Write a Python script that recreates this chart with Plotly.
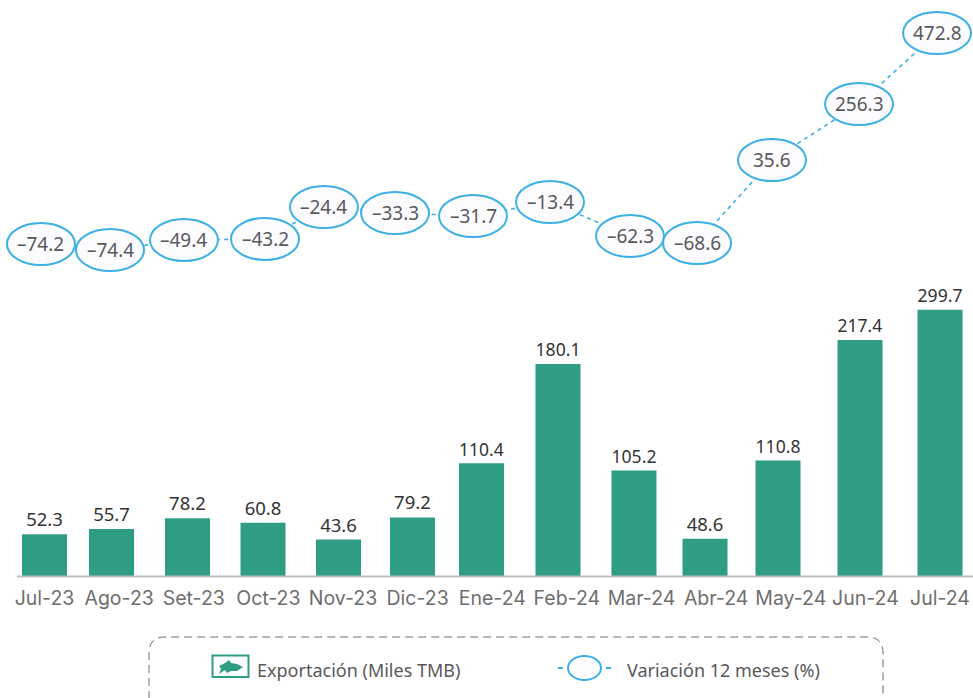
import plotly.graph_objects as go

W, H = 973, 698
meses = ["Jul-23", "Ago-23", "Set-23", "Oct-23", "Nov-23", "Dic-23", "Ene-24", "Feb-24",
         "Mar-24", "Abr-24", "May-24", "Jun-24", "Jul-24"]
exportacion = [52.3, 55.7, 78.2, 60.8, 43.6, 79.2, 110.4, 180.1, 105.2, 48.6, 110.8, 217.4, 299.7]
variacion = [-74.2, -74.4, -49.4, -43.2, -24.4, -33.3, -31.7, -13.4, -62.3, -68.6, 35.6, 256.3, 472.8]

# The source picture is hand-adjusted: heights and slots do not follow the printed
# labels linearly, so the drawn levels are read from the picture separately.
barra_nivel = [47, 53, 65, 60, 41, 66, 127, 239, 119, 42, 130, 266, 300]
barra_pos = [0, 0.898, 1.916, 2.928, 3.94, 4.931, 5.856, 6.881, 7.899, 8.851, 9.829, 10.928, 12]
linea_nivel = [-74.2, -89.7, -63.7, -61, 21.8, 6.2, -1.5, 34.8, -53.4, -71.6, 143.6, 288.8, 472.8]
linea_pos = [-0.047, 0.878, 1.869, 2.955, 3.745, 4.697, 5.742, 6.774, 7.846, 8.744, 9.749, 10.915, 11.96]

GREEN, BLUE = "#2F9C84", "#3DB1E3"
GREY, DARK = "#58595B", "#333333"
FONT = "Noto Sans"

def px(v): return v / W
def py(v): return 1 - v / H

fig = go.Figure()
fig.add_bar(x=barra_pos, y=barra_nivel, width=0.603, marker_color=GREEN, marker_line_width=0,
            text=[f"{v:.1f}" for v in exportacion], textposition="outside", cliponaxis=False,
            textfont=dict(size=18.5, color=DARK, family=FONT), yaxis="y")
fig.add_scatter(x=linea_pos, y=linea_nivel, mode="lines", yaxis="y2",
                line=dict(color=BLUE, width=1.6, dash="4px,4px"), hoverinfo="skip")

shapes, annos = [], []
# Baseline, starting a little right of the page edge
shapes.append(dict(type="line", xref="paper", yref="paper", x0=px(17), x1=1, y0=py(576.5), y1=py(576.5),
                   line=dict(color="#BFBFBF", width=2)))
for x, y, v in zip(linea_pos, linea_nivel, variacion):
    shapes.append(dict(type="circle", xref="x", yref="y2", xsizemode="pixel", ysizemode="pixel",
                       xanchor=x, yanchor=y, x0=-34, x1=34, y0=-21, y1=21,
                       fillcolor="#FCFCFF", line=dict(color=BLUE, width=2)))
    annos.append(dict(x=x, y=y, xref="x", yref="y2", text=f"{v:.1f}".replace("-", "–"), showarrow=False,
                      font=dict(size=19, color=GREY, family=FONT)))

# Legend box (rounded, dashed, running off the bottom edge)
L, R, T, B, r = px(149), px(883), py(637), py(712), 16
box = (f"M {L} {B} L {L} {py(637 + r)} Q {L} {T} {px(149 + r)} {T} L {px(883 - r)} {T} "
       f"Q {R} {T} {R} {py(637 + r)} L {R} {B}")
shapes.append(dict(type="path", path=box, xref="paper", yref="paper",
                   line=dict(color="#6E6E6E", width=1, dash="8px,5px")))
# Legend: export icon
shapes.append(dict(type="rect", xref="paper", yref="paper", x0=px(212.5), x1=px(248.5), y0=py(655.5), y1=py(677),
                   line=dict(color=GREEN, width=2), fillcolor="#FFFFFF"))
fish = [(219, 666), (225, 663), (229, 660), (231, 663), (237, 664), (243, 667), (237, 671), (231, 671),
        (227, 673), (225, 670), (219, 674), (221, 669)]
shapes.append(dict(type="path", xref="paper", yref="paper", fillcolor=GREEN, line_width=0,
                   path="M " + " L ".join(f"{px(a)} {py(b)}" for a, b in fish) + " Z"))
# Legend: variation icon
for a, b in ((558, 563), (606, 611)):
    shapes.append(dict(type="line", xref="paper", yref="paper", x0=px(a), x1=px(b), y0=py(668), y1=py(668),
                       line=dict(color=BLUE, width=2)))
shapes.append(dict(type="circle", xref="paper", yref="paper", x0=px(568), x1=px(601), y0=py(656), y1=py(680),
                   fillcolor="#FCFCFF", line=dict(color=BLUE, width=2)))
annos.append(dict(x=px(255), y=py(670), xref="paper", yref="paper", xanchor="left", yanchor="middle", showarrow=False,
                  text="Exportación (Miles TMB)", font=dict(size=18, color=GREY, family=FONT)))
annos.append(dict(x=px(625), y=py(670), xref="paper", yref="paper", xanchor="left", yanchor="middle", showarrow=False,
                  text="Variación 12 meses (%)", font=dict(size=18, color=GREY, family=FONT)))

fig.update_layout(
    width=W, height=H, margin=dict(l=0, r=0, t=0, b=0), paper_bgcolor="white", plot_bgcolor="white",
    showlegend=False, shapes=shapes, annotations=annos,
    font=dict(family=FONT),
    xaxis=dict(domain=[0, 1], range=[-0.5963, 12.442], tickmode="array", tickvals=list(range(13)),
               ticktext=meses, showgrid=False, zeroline=False, showline=False,
               ticks="outside", ticklen=5, tickcolor="rgba(0,0,0,0)",
               tickfont=dict(size=19.5, color="#6E6E6E", family="Inter")),
    yaxis=dict(domain=[py(576), 1], range=[0, 649], visible=False),
    yaxis2=dict(domain=[py(576), 1], overlaying="y", range=[-934.7, 558.3], visible=False),
)
fig.write_html("out.html", config=dict(displayModeBar=False),
               post_script="document.body.style.margin='0';document.body.style.overflow='hidden';")
